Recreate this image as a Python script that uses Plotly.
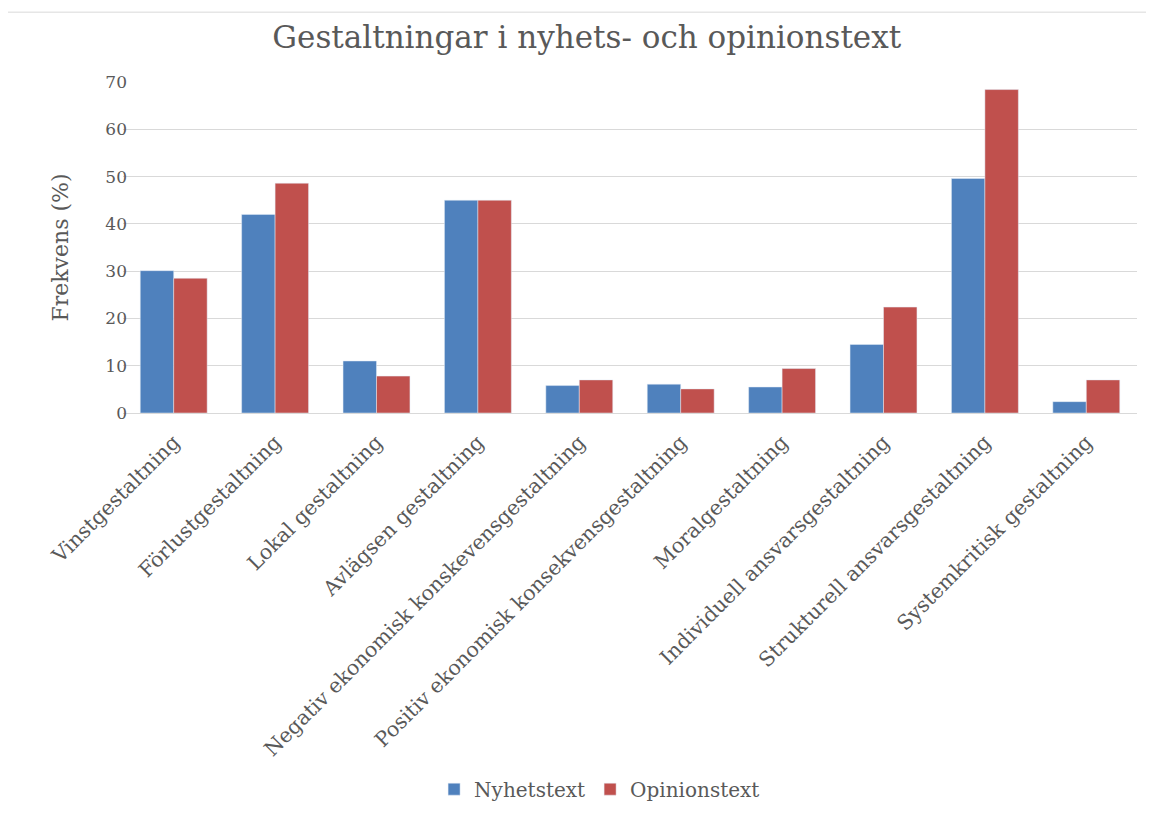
import plotly.graph_objects as go

# Gestaltningar i nyhets- och opinionstext (procent)
categories = [
    "Vinstgestaltning",
    "Förlustgestaltning",
    "Lokal gestaltning",
    "Avlägsen gestaltning",
    "Negativ ekonomisk konskevensgestaltning",
    "Positiv ekonomisk konsekvensgestaltning",
    "Moralgestaltning",
    "Individuell ansvarsgestaltning",
    "Strukturell ansvarsgestaltning",
    "Systemkritisk gestaltning",
]
nyhetstext = [30.1, 42.0, 11.0, 45.0, 5.8, 6.1, 5.5, 14.5, 49.6, 2.4]
opinionstext = [28.5, 48.6, 7.8, 45.0, 7.0, 5.1, 9.4, 22.4, 68.4, 7.0]
y_ticks = [0, 10, 20, 30, 40, 50, 60, 70]

font_serif = "DejaVu Serif"
grey = "#595959"

fig = go.Figure()
fig.add_trace(go.Bar(x=categories, y=nyhetstext, name="Nyhetstext",
                     marker=dict(color="#4F81BD")))
fig.add_trace(go.Bar(x=categories, y=opinionstext, name="Opinionstext",
                     marker=dict(color="#C0504D")))

# page body has an 8px margin, so the figure is a bit smaller than the window
fig.update_layout(
    width=1146, height=810,
    paper_bgcolor="white", plot_bgcolor="white",
    barmode="group", bargap=0.34, bargroupgap=0,
    margin=dict(l=115, r=17, t=74, b=404),
    title=dict(text="Gestaltningar i nyhets- och opinionstext",
               x=0.505, xanchor="center", y=0.964, yanchor="middle",
               font=dict(family=font_serif, size=31, color=grey)),
    font=dict(family=font_serif, color=grey),
    legend=dict(orientation="h", x=0.47, xanchor="center", y=-1.13, yanchor="middle",
                font=dict(size=20, color=grey), itemwidth=30,
                traceorder="normal"),
    shapes=[dict(type="rect", xref="paper", yref="paper",
                 x0=-0.12, x1=1.0128, y0=-1.3, y1=1.211,
                 line=dict(color="#d9d9d9", width=1), layer="below")],
)
fig.update_xaxes(tickangle=-45, tickfont=dict(size=20.5, color=grey), ticklabelstandoff=8,
                 showline=True, linecolor="#d9d9d9", ticks="", showgrid=False)
fig.update_yaxes(range=[0, 70], tickvals=y_ticks, tickfont=dict(size=17, color=grey),
                 ticklabelstandoff=-5,
                 gridcolor="#d9d9d9", zeroline=False, ticks="", ticklen=0,
                 title=dict(text="Frekvens (%)", font=dict(size=22, color=grey), standoff=30))

fig.write_html("out.html")
